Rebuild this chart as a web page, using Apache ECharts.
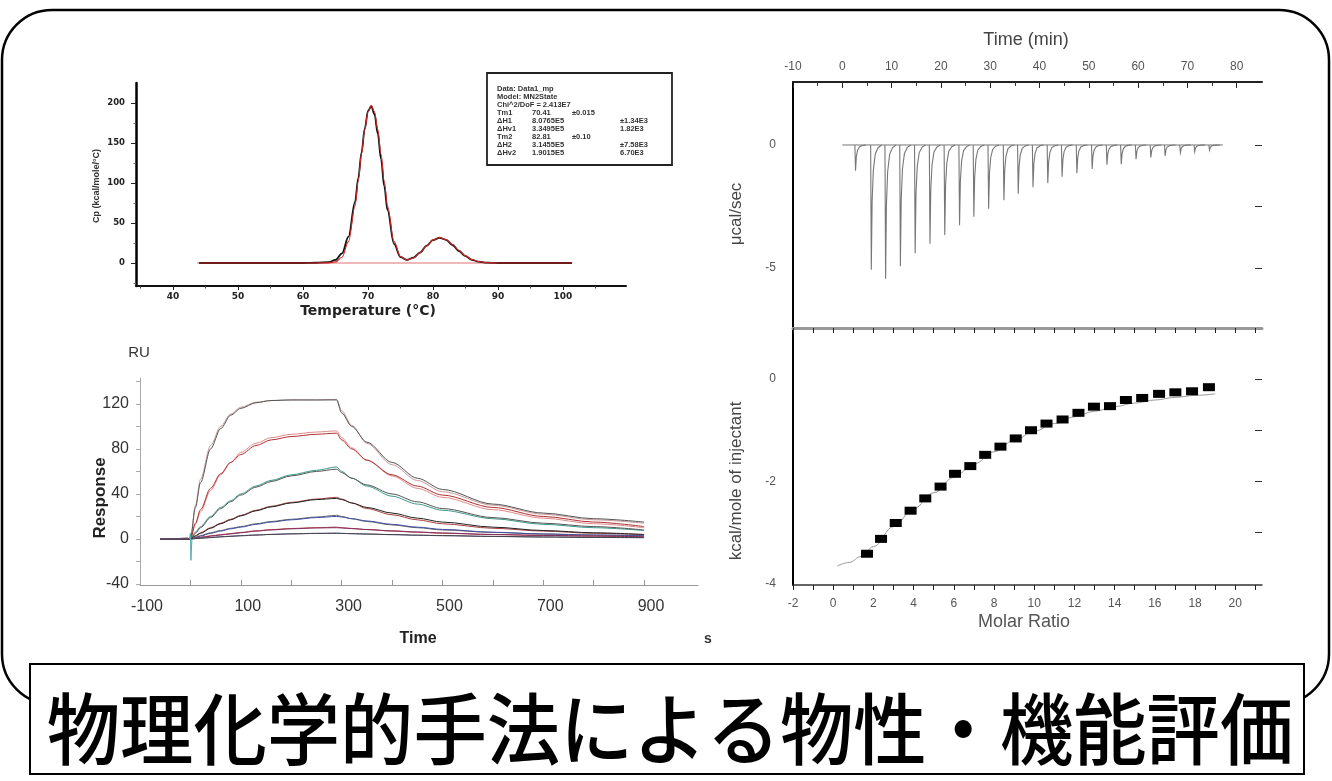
<!DOCTYPE html>
<html><head><meta charset="utf-8">
<script src="https://cdn.jsdelivr.net/npm/echarts@6/dist/echarts.min.js"></script>
<style>html,body{margin:0;padding:0;background:#fff}#c{width:1332px;height:781px}</style>
</head><body><div id="c"></div>
<script>
// ---------- DSC (top left) ----------
var dscTemp = [44, 50, 56, 60, 62, 64, 65, 66, 67, 68, 68.5, 69, 69.5, 70, 70.5, 71, 71.5, 72, 72.5, 73, 74, 75, 76, 77, 78, 79, 80, 81, 82, 83, 84, 85, 86, 87, 88, 89, 90, 94, 98, 101.4];
var dscFit  = [0, 0, 0, 0, 0, 0.2, 1.4, 7.2, 26.7, 71, 102.5, 136.5, 167, 189, 197, 189, 167, 136.5, 102.5, 71.2, 27, 8, 3.8, 6.3, 12.6, 21.2, 28.9, 32, 29.5, 23.2, 15.6, 8.9, 4.3, 1.8, 0.6, 0.2, 0, 0, 0, 0];
var dscData = [0, 0, 0, 0, 0.3, 1.2, 3.8, 12, 33, 76, 106, 138, 168, 190, 196, 186, 162, 130, 96, 66, 24, 7.5, 4, 6.8, 13, 21.5, 28.5, 31.5, 29, 22.5, 15, 8.5, 4, 1.6, 0.5, 0.2, 0, 0, 0, 0];
var dscBaseT = [43.7, 101.4];
var dscBaseV = [0, 0];
var dscXLabels = [40, 50, 60, 70, 80, 90, 100];
var dscXMinor = [35, 45, 55, 65, 75, 85, 95, 105];
var dscYLabels = [0, 50, 100, 150, 200];
var dscYMinor = [-25, 25, 75, 125, 175];
var dscLegendRows = [
  ['Data: Data1_mp', '', '', ''],
  ['Model: MN2State', '', '', ''],
  ['Chi^2/DoF = 2.413E7', '', '', ''],
  ['Tm1', '70.41', '\u00b10.015', ''],
  ['\u0394H1', '8.0765E5', '', '\u00b11.34E3'],
  ['\u0394Hv1', '3.3495E5', '', '1.82E3'],
  ['Tm2', '82.81', '\u00b10.10', ''],
  ['\u0394H2', '3.1455E5', '', '\u00b17.58E3'],
  ['\u0394Hv2', '1.9015E5', '', '6.70E3']
];

// ---------- SPR (bottom left) ----------
var sprTime  = [-60, -5, 0, 10, 20, 40, 60, 80, 100, 130, 160, 200, 250, 290, 300, 320, 350, 400, 450, 500, 600, 700, 800, 900];
var sprFitA  = [0, 0, 0, 28, 50, 80, 98, 110, 116, 121, 123, 123.5, 123.5, 123.5, 112, 100, 86, 68, 54, 44, 31, 23, 18, 15];
var sprDataA = [0, 0.5, 0, 30, 53, 83, 100, 111, 117, 121.5, 123, 123.5, 123.5, 124, 114, 101, 85, 66, 52, 42, 30, 22, 17, 14];
var sprFitB  = [0, 0, 0, 14, 26, 45, 58, 68, 75, 83, 88, 91, 93, 94, 88, 80, 70, 57, 47, 39, 28, 20, 15, 11];
var sprDataB = [0, 0.5, 0, 13, 24, 43, 57, 68, 77, 85, 90, 93, 95, 96, 90, 81, 70, 56, 45, 37, 26, 18.5, 13.5, 10];
var sprFitC  = [0, 0, 0, 5, 10, 19, 27, 33, 39, 46, 51, 56, 60, 62, 59, 54, 48, 40, 33, 27, 19, 14, 11, 8];
var sprDataC = [0, 0.5, 0, 6, 11, 20, 28, 34, 40, 47, 52, 57, 61, 64, 60, 54, 47, 38, 31, 25.5, 18, 13, 10, 7.5];
var sprFitD  = [0, 0, 0, 2.5, 5, 9.5, 13.5, 17, 20.5, 25, 28.5, 32, 35, 36, 35, 32, 28, 23, 18.5, 15, 10.5, 7.5, 5.5, 4];
var sprDataD = [0, 0.5, 0, 3, 5.5, 10, 14, 17.5, 21, 25.5, 29, 32.5, 35.5, 37, 35.5, 32, 27, 21.5, 17, 13.5, 9.5, 7, 5, 3.8];
var sprFitE  = [0, 0, 0, 1.2, 2.5, 5, 7, 9, 10.5, 13, 15, 17, 19, 20, 19.5, 18, 16, 13, 10.5, 8.5, 6, 4.5, 3.5, 3];
var sprDataE = [0, 0.5, 0, 1.5, 3, 5.5, 7.5, 9.5, 11, 13.5, 15.5, 17.5, 19.5, 21, 20, 18, 15.5, 12.5, 10, 8, 5.8, 4.3, 3.4, 2.8];
var sprFitF  = [0, 0, 0, 0.6, 1.2, 2.5, 3.5, 4.5, 5.5, 7, 8, 9, 9.8, 10, 9.8, 9.2, 8.4, 7.2, 6.2, 5.3, 4, 3.2, 2.6, 2];
var sprDataF = [0, 0.5, 0, 0.8, 1.5, 2.8, 3.8, 4.8, 5.8, 7.2, 8.3, 9.3, 10, 10.5, 10, 9.3, 8.3, 7, 6, 5.1, 3.9, 3.1, 2.5, 1.9];
var sprFitG  = [0, 0, 0, 0.3, 0.6, 1.2, 1.8, 2.3, 2.8, 3.4, 4, 4.5, 4.9, 5, 4.9, 4.7, 4.4, 3.9, 3.4, 3, 2.3, 1.8, 1.4, 1.2];
var sprDataG = [0, 0.5, 0, 0.4, 0.8, 1.4, 2, 2.5, 3, 3.6, 4.1, 4.6, 5, 5.2, 5, 4.7, 4.3, 3.8, 3.3, 2.9, 2.2, 1.7, 1.3, 1.1];
var sprSpikeT = [-2, 0, 1, 3];
var sprSpikeV = [0, 5, -19, 0];
var sprXLabels = [-100, 100, 300, 500, 700, 900];
var sprXTicks = [0, 100, 200, 300, 400, 500, 600, 700, 800, 900];
var sprYLabels = [-40, 0, 40, 80, 120];
var sprYTicks = [-40, -20, 0, 20, 40, 60, 80, 100, 120, 140];

// ---------- ITC (right) ----------
var itcInjTime = [2.6, 5.8, 8.7, 11.7, 14.7, 17.7, 20.7, 23.7, 26.6, 29.6, 32.7, 35.6, 38.6, 41.6, 44.5, 47.5, 50.6, 53.6, 56.5, 59.5, 62.5, 65.4, 68.5, 71.4, 74.4];
var itcPeak = [-1.05, -5.07, -5.44, -4.93, -4.4, -4.02, -3.66, -3.26, -2.92, -2.59, -2.25, -1.98, -1.72, -1.55, -1.29, -1.15, -0.98, -0.8, -0.78, -0.58, -0.51, -0.44, -0.31, -0.27, -0.21];
var itcBaseT = [0, 77.2];
var itcBaseV = [0, 0];
var itcRatio = [1.68, 2.38, 3.11, 3.85, 4.58, 5.34, 6.06, 6.82, 7.56, 8.32, 9.08, 9.84, 10.61, 11.41, 12.2, 12.97, 13.77, 14.56, 15.37, 16.21, 17.02, 17.85, 18.69];
var itcHeat = [-3.41, -3.12, -2.81, -2.57, -2.33, -2.1, -1.85, -1.7, -1.48, -1.32, -1.16, -1.0, -0.87, -0.79, -0.66, -0.54, -0.53, -0.41, -0.37, -0.29, -0.26, -0.24, -0.16];
var itcFitRatio = [0.2, 0.8, 1.4, 2, 3, 4, 5, 6, 7, 8, 9, 10, 11, 12, 13, 14, 15, 16, 17, 18, 19];
var itcFitHeat = [-3.65, -3.58, -3.46, -3.27, -2.88, -2.53, -2.22, -1.92, -1.66, -1.42, -1.2, -1.02, -0.87, -0.74, -0.63, -0.54, -0.47, -0.41, -0.36, -0.32, -0.29];
var itcTimeLabels = [-10, 0, 10, 20, 30, 40, 50, 60, 70, 80];
var itcTimeMinor = [-5, 5, 15, 25, 35, 45, 55, 65, 75];
var itcRatioLabels = [-2, 0, 2, 4, 6, 8, 10, 12, 14, 16, 18, 20];
var itcRatioTicks = [-2, -1, 0, 1, 2, 3, 4, 5, 6, 7, 8, 9, 10, 11, 12, 13, 14, 15, 16, 17, 18, 19, 20, 21];
var itcPowerLabels = [0, -5];
var itcPowerTicks = [0, -2.5, -5];
var itcHeatLabels = [0, -2, -4];
var itcHeatTicks = [0, -1, -2, -3];

var titleText = '物理化学的手法による物性・機能評価';

// ---------- helpers ----------
var F = 'Liberation Sans';
function pairs(xs, ys) { var o = []; for (var i = 0; i < xs.length; i++) o.push([xs[i], ys[i]]); return o; }
function ln(color, width) { return {show: true, onZero: false, lineStyle: {color: color, width: width}}; }
function axis(o) {
  var base = {type: 'value', splitLine: {show: false}, axisLine: {show: false, onZero: false},
              axisTick: {show: false}, axisLabel: {show: false}, axisPointer: {show: false}};
  for (var k in o) base[k] = o[k];
  return base;
}
function ticks(vals, len, inside, color) {
  return {show: true, customValues: vals, length: len, inside: !!inside, lineStyle: {color: color || '#222', width: 1}};
}
function labels(vals, margin, size, color, weight, family, padding) {
  var o = {show: true, customValues: vals, margin: margin, fontSize: size, color: color,
          fontWeight: weight || 'normal', fontFamily: family || F};
  if (padding) o.padding = padding;
  return o;
}
function lineSeries(xi, yi, data, color, width, smooth) {
  return {type: 'line', xAxisIndex: xi, yAxisIndex: yi, data: data, showSymbol: false, symbol: 'none',
          silent: true, animation: false, smooth: smooth || false, smoothMonotone: 'x',
          lineStyle: {color: color, width: width}};
}
function txt(x, y, text, size, color, weight, family, rot, align) {
  return {type: 'text', x: x, y: y, rotation: rot || 0, z: 20,
          style: {text: text, fontSize: size, fill: color, fontWeight: weight || 'normal', fontFamily: family || F,
                  align: align || 'center', verticalAlign: 'middle', textAlign: align || 'center', textVerticalAlign: 'middle'}};
}

// ---------- axes ----------
var DSC_MIN = 34.3, DSC_MAX = 109.7;
var xAxes = [
  axis({gridIndex: 0, min: DSC_MIN, max: DSC_MAX, position: 'bottom', axisLine: ln('#111', 2),
        axisTick: ticks(dscXLabels, 4, false, '#222'),
        axisLabel: labels(dscXLabels, 6, 9, '#222', 'bold', 'DejaVu Sans')}),
  axis({gridIndex: 0, min: DSC_MIN, max: DSC_MAX, position: 'bottom', axisTick: ticks(dscXMinor, 2.5, false, '#444')}),
  axis({gridIndex: 1, min: -100, max: 1007, position: 'bottom', axisLine: ln('#999', 1),
        axisTick: ticks(sprXTicks, 5, true, '#999'),
        axisLabel: labels(sprXLabels, 14, 16, '#333', 'normal', F, [0, 0, 0, 14])}),
  axis({gridIndex: 2, min: -10, max: 85.13, position: 'top', axisLine: ln('#222', 2),
        axisTick: ticks(itcTimeLabels, 6, true, '#222'),
        axisLabel: labels(itcTimeLabels, 9, 12, '#555')}),
  axis({gridIndex: 2, min: -10, max: 85.13, position: 'top', axisTick: ticks(itcTimeMinor, 4, true, '#333')}),
  axis({gridIndex: 2, min: -10, max: 85.13, position: 'bottom', axisLine: ln('#999', 3)}),
  axis({gridIndex: 3, min: -2, max: 21.33, position: 'bottom', axisLine: ln('#333', 1.5),
        axisTick: ticks(itcRatioTicks, 5, false, '#222'),
        axisLabel: labels(itcRatioLabels, 13, 12, '#555')}),
  axis({gridIndex: 3, min: -2, max: 21.33, position: 'top', axisTick: ticks(itcRatioTicks, 5, true, '#222')})
];
var yAxes = [
  axis({gridIndex: 0, min: -28.75, max: 225, position: 'left', axisLine: ln('#000', 2.5),
        axisTick: ticks(dscYLabels, 5, false, '#222'),
        axisLabel: labels(dscYLabels, 11, 8.5, '#222', 'bold', 'DejaVu Sans')}),
  axis({gridIndex: 0, min: -28.75, max: 225, position: 'left', axisTick: ticks(dscYMinor, 2.5, false, '#666')}),
  axis({gridIndex: 1, min: -40.9, max: 143, position: 'left', axisLine: ln('#aaa', 1),
        axisTick: ticks(sprYTicks, 4, false, '#aaa'),
        axisLabel: labels(sprYLabels, 11, 16, '#333')}),
  axis({gridIndex: 2, min: -7.44, max: 2.56, position: 'left', axisLine: ln('#000', 2),
        axisLabel: labels(itcPowerLabels, 17, 12, '#555')}),
  axis({gridIndex: 2, min: -7.44, max: 2.56, position: 'right', axisTick: ticks(itcPowerTicks, 7, true, '#333')}),
  axis({gridIndex: 3, min: -4.02, max: 0.995, position: 'left', axisLine: ln('#000', 2),
        axisLabel: labels(itcHeatLabels, 17, 12, '#555')}),
  axis({gridIndex: 3, min: -4.02, max: 0.995, position: 'right', axisTick: ticks(itcHeatTicks, 7, true, '#333')})
];

// ---------- series ----------
var series = [];
series.push(lineSeries(0, 0, pairs(dscBaseT, dscBaseV), '#e07070', 1));
series.push(lineSeries(0, 0, pairs(dscTemp, dscData), '#111', 1.8, 0.35));
series.push(lineSeries(0, 0, pairs(dscTemp, dscFit), '#d02828', 1.1, 0.35));

var sprSets = [
  [sprFitA, sprDataA, '#555', '#c99a9a'],
  [sprFitB, sprDataB, '#b03030', '#e08a8a'],
  [sprFitC, sprDataC, '#555', '#3a9a8a'],
  [sprFitD, sprDataD, '#222', '#a84040'],
  [sprFitE, sprDataE, '#4050a0', '#666'],
  [sprFitF, sprDataF, '#803060', '#c04040'],
  [sprFitG, sprDataG, '#444', '#7060a0']
];
sprSets.forEach(function (s) {
  series.push(lineSeries(2, 2, pairs(sprTime, s[1]), s[3], 1, 0.3));
  series.push(lineSeries(2, 2, pairs(sprTime, s[0]), s[2], 1, 0.3));
});
series.push(lineSeries(2, 2, pairs(sprSpikeT, sprSpikeV), '#5aa', 1));

series.push(lineSeries(3, 3, pairs(itcBaseT, itcBaseV), '#777', 1));
series.push({
  type: 'custom', xAxisIndex: 3, yAxisIndex: 3, silent: true, animation: false,
  data: pairs(itcInjTime, itcPeak),
  renderItem: function (params, api) {
    var t = api.value(0), d = api.value(1);
    var prof = [[-0.05, 0], [0.08, 1], [0.25, 0.45], [0.5, 0.2], [0.9, 0.07], [1.5, 0.02], [2.2, 0]];
    var pts = prof.map(function (p) { return api.coord([t + p[0], d * p[1]]); });
    return {type: 'polyline', shape: {points: pts}, style: {stroke: '#777', lineWidth: 1.1, fill: null}};
  }
});
series.push(lineSeries(6, 5, pairs(itcFitRatio, itcFitHeat), '#999', 1, 0.4));
series.push({type: 'scatter', xAxisIndex: 6, yAxisIndex: 5, data: pairs(itcRatio, itcHeat), symbol: 'rect', z: 6,
             symbolSize: [12, 8], itemStyle: {color: '#000', borderWidth: 0, opacity: 1}, silent: true, animation: false});

// ---------- graphics ----------
var g = [];
g.push({type: 'rect', z: 1, shape: {x: 2, y: 10, width: 1327, height: 694, r: 50},
        style: {fill: 'none', stroke: '#000', lineWidth: 2.5}});
g.push({type: 'rect', z: 2, shape: {x: 30, y: 664, width: 1274, height: 110},
        style: {fill: '#fff', stroke: '#000', lineWidth: 2}});
g.push({type: 'text', x: 670, y: 729, scaleX: 0.94, z: 30,
        style: {text: titleText, fontSize: 78, fontFamily: '"Noto Sans CJK JP Medium", "Noto Sans CJK JP"', fontWeight: 500, fill: '#000',
                align: 'center', verticalAlign: 'middle', textAlign: 'center', textVerticalAlign: 'middle'}});
// DSC legend box
g.push({type: 'rect', z: 5, shape: {x: 487, y: 73, width: 185, height: 92},
        style: {fill: '#fff', stroke: '#222', lineWidth: 1.8}});
var legCols = [497, 532, 572, 620];
dscLegendRows.forEach(function (row, i) {
  row.forEach(function (cell, j) {
    if (cell) g.push(txt(legCols[j], 89 + i * 8, cell, 7.5, '#333', 'bold', F, 0, 'left'));
  });
});
// axis titles
g.push(txt(97, 186, 'Cp (kcal/mole/\u00b0C)', 9, '#333', 'bold', F, Math.PI / 2));
g.push(txt(368, 311, 'Temperature (\u00b0C)', 14, '#222', 'bold', 'DejaVu Sans'));
g.push(txt(139, 353, 'RU', 15, '#333'));
g.push(txt(100, 498, 'Response', 17, '#222', 'bold', F, Math.PI / 2));
g.push(txt(418, 639, 'Time', 16, '#222', 'bold'));
g.push(txt(708, 639, 's', 14, '#333', 'bold'));
g.push(txt(1026, 40, 'Time (min)', 18, '#444'));
g.push(txt(736, 214, '\u03bccal/sec', 17, '#444', 'normal', F, Math.PI / 2));
g.push(txt(736, 481, 'kcal/mole of injectant', 17, '#444', 'normal', F, Math.PI / 2));
g.push(txt(1024, 622, 'Molar Ratio', 18, '#555'));

var chart = echarts.init(document.getElementById('c'), null, {renderer: 'canvas'});
chart.setOption({
  backgroundColor: '#fff',
  animation: false,
  grid: [
    {left: 136, top: 83, width: 490, height: 203},
    {left: 140, top: 378, width: 558, height: 207},
    {left: 793, top: 82, width: 469, height: 246},
    {left: 793, top: 328, width: 469, height: 257}
  ],
  xAxis: xAxes,
  yAxis: yAxes,
  series: series,
  graphic: {elements: g}
});
</script>
</body></html>
